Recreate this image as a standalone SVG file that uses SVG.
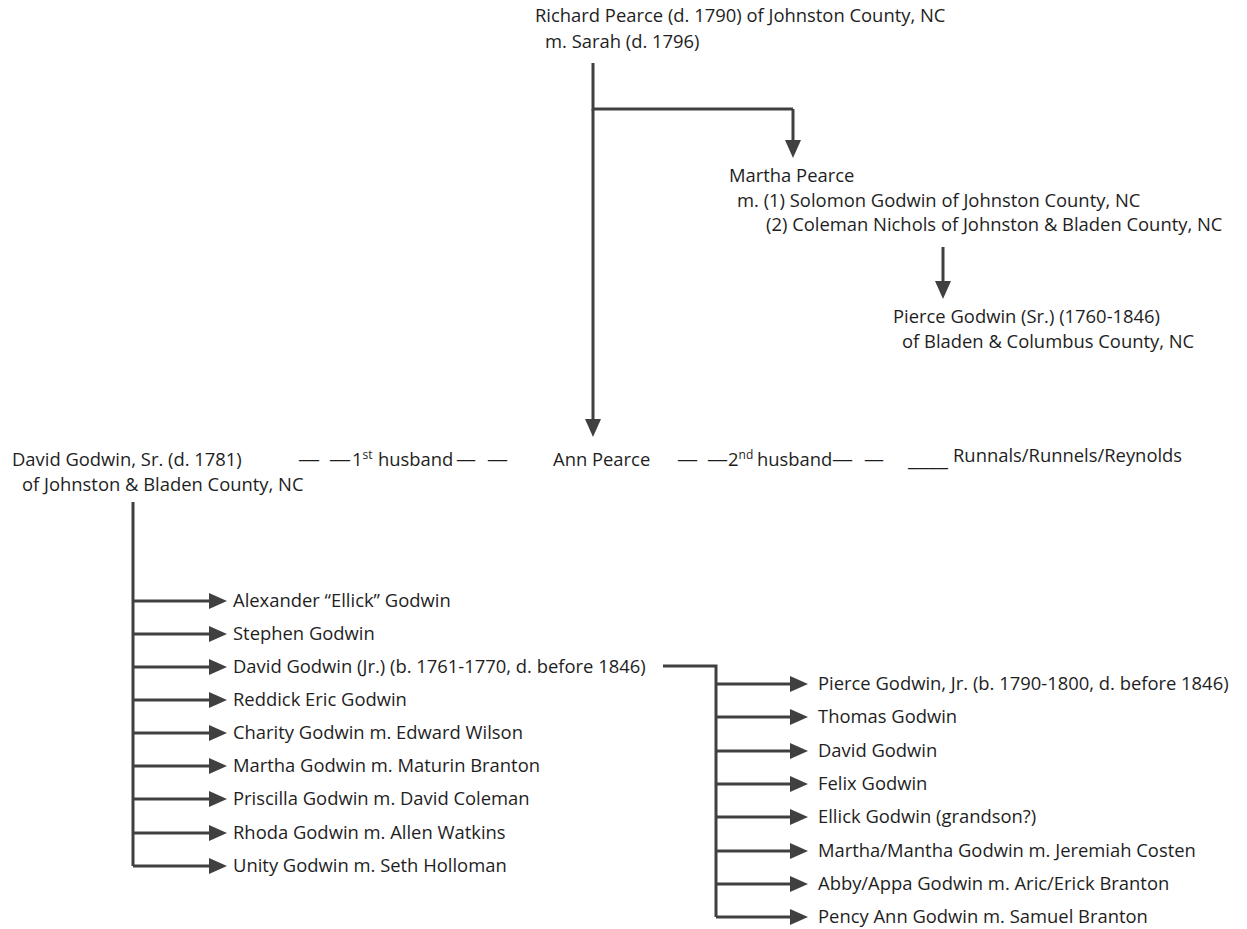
<svg xmlns="http://www.w3.org/2000/svg" width="1247" height="929" viewBox="0 0 1247 929">
<style>
text{font-family:"Open Sans","Noto Sans","Liberation Sans",sans-serif;font-size:18.4px;fill:#1e1e1e}
.c{stroke:#404040;stroke-width:3;fill:none}
.a{stroke:#404040;stroke-width:3;fill:none;marker-end:url(#ah)}
.sup{font-size:12px}
</style>
<defs>
<marker id="ah" markerUnits="userSpaceOnUse" markerWidth="18" markerHeight="16" refX="0" refY="8" orient="auto">
<path d="M0,0 L18,8 L0,16 z" fill="#404040"/>
</marker>
</defs>
<g id="connectors">
<path class="c" d="M593,63 V109 H793"/>
<path class="a" d="M793,109 V140"/>
<path class="a" d="M593,109 V419"/>
<path class="a" d="M943,247 V281"/>
<path class="c" d="M133,502 V866"/>
<path class="a" d="M133,601 H209"/>
<path class="a" d="M133,634 H209"/>
<path class="a" d="M133,667 H209"/>
<path class="a" d="M133,700 H209"/>
<path class="a" d="M133,733 H209"/>
<path class="a" d="M133,766 H209"/>
<path class="a" d="M133,799 H209"/>
<path class="a" d="M133,833 H209"/>
<path class="a" d="M133,866 H209"/>
<path class="c" d="M663,666 H716 V917"/>
<path class="a" d="M716,684 H790"/>
<path class="a" d="M716,717 H790"/>
<path class="a" d="M716,751 H790"/>
<path class="a" d="M716,784 H790"/>
<path class="a" d="M716,817 H790"/>
<path class="a" d="M716,851 H790"/>
<path class="a" d="M716,884 H790"/>
<path class="a" d="M716,917 H790"/>
</g>
<g id="richard"><text x="535" y="22">Richard Pearce (d. 1790) of Johnston County, NC</text><text x="545" y="48">m. Sarah (d. 1796)</text></g>
<g id="martha"><text x="729" y="182">Martha Pearce</text><text x="737" y="207">m. (1) Solomon Godwin of Johnston County, NC</text><text x="766" y="231">(2) Coleman Nichols of Johnston &amp; Bladen County, NC</text></g>
<g id="pierce-sr"><text x="893" y="323">Pierce Godwin (Sr.) (1760-1846)</text><text x="902" y="348">of Bladen &amp; Columbus County, NC</text></g>
<g id="david-sr"><text x="12" y="466">David Godwin, Sr. (d. 1781)</text><text x="22" y="491">of Johnston &amp; Bladen County, NC</text></g>
<g id="first-husband">
<text x="298" y="466" textLength="22" lengthAdjust="spacingAndGlyphs">—</text>
<text x="329" y="466" textLength="22" lengthAdjust="spacingAndGlyphs">—</text>
<text x="352" y="466">1<tspan class="sup" dy="-7">st</tspan><tspan x="378" dy="7">husband</tspan></text>
<text x="456" y="466" textLength="20" lengthAdjust="spacingAndGlyphs">—</text>
<text x="487" y="466" textLength="21" lengthAdjust="spacingAndGlyphs">—</text>
</g>
<g id="ann"><text x="553" y="466">Ann Pearce</text></g>
<g id="second-husband">
<text x="677" y="466" textLength="21" lengthAdjust="spacingAndGlyphs">—</text>
<text x="707" y="466" textLength="21" lengthAdjust="spacingAndGlyphs">—</text>
<text x="728" y="466">2<tspan class="sup" dy="-7">nd</tspan><tspan x="757" dy="7">husband</tspan></text>
<text x="832" y="466" textLength="21" lengthAdjust="spacingAndGlyphs">—</text>
<text x="864" y="466" textLength="20" lengthAdjust="spacingAndGlyphs">—</text>
</g>
<g id="runnals"><text x="908" y="466" textLength="40" lengthAdjust="spacingAndGlyphs">____</text><text x="953" y="462">Runnals/Runnels/Reynolds</text></g>
<g id="children-david-sr">
<text x="233" y="607">Alexander “Ellick” Godwin</text>
<text x="233" y="640">Stephen Godwin</text>
<text x="233" y="673">David Godwin (Jr.) (b. 1761-1770, d. before 1846)</text>
<text x="233" y="706">Reddick Eric Godwin</text>
<text x="233" y="739">Charity Godwin m. Edward Wilson</text>
<text x="233" y="772">Martha Godwin m. Maturin Branton</text>
<text x="233" y="805">Priscilla Godwin m. David Coleman</text>
<text x="233" y="839">Rhoda Godwin m. Allen Watkins</text>
<text x="233" y="872">Unity Godwin m. Seth Holloman</text>
</g>
<g id="children-david-jr">
<text x="818" y="690">Pierce Godwin, Jr. (b. 1790-1800, d. before 1846)</text>
<text x="818" y="723">Thomas Godwin</text>
<text x="818" y="757">David Godwin</text>
<text x="818" y="790">Felix Godwin</text>
<text x="818" y="823">Ellick Godwin (grandson?)</text>
<text x="818" y="857">Martha/Mantha Godwin m. Jeremiah Costen</text>
<text x="818" y="890">Abby/Appa Godwin m. Aric/Erick Branton</text>
<text x="818" y="923">Pency Ann Godwin m. Samuel Branton</text>
</g>
</svg>
